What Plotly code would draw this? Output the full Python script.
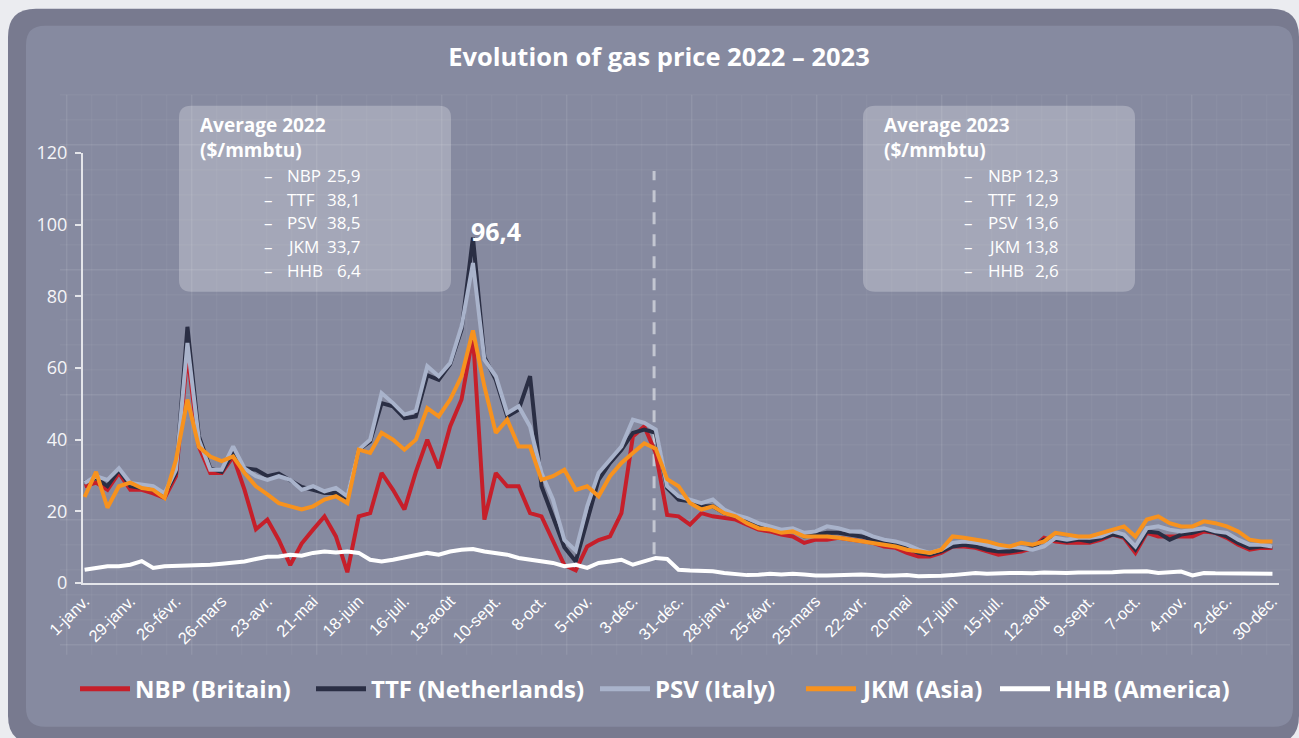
import pandas as pd
import plotly.graph_objects as go

# weekly readings, 1 Jan 2022 -> 29 Dec 2023 ($/mmbtu)
weeks = pd.date_range("2022-01-01", periods=105, freq="7D")

nbp = [27, 28, 26, 30.7, 26, 26, 25, 23.7, 29.8, 64, 38, 30.7, 30.7, 35.3, 26, 15,
       17.7, 12, 5, 11, 14.9, 18.6, 13, 3, 18.6, 19.5, 30.7, 26, 20.5, 31, 40, 32,
       43.7, 51.2, 69, 17.7, 30.7, 27, 27, 19.5, 18.6, 12, 5, 3.5, 10.2, 12, 13, 19.5,
       40.9, 43.7, 36.3, 19, 18.6, 16.3, 19.5, 18.6, 18.1, 17.7, 16.3, 14.9, 14.4, 13.5,
       13, 11.2, 12.1, 12.1, 12.6, 12.1, 11.6, 11.2, 10.2, 9.8, 8.4, 7.4, 7.4, 8.4,
       10.2, 10.2, 9.8, 8.8, 7.9, 8.4, 8.8, 9.8, 12.6, 11.6, 11.2, 11.2, 11.2, 12.1,
       13.5, 12.6, 8.4, 14, 13, 13, 13, 13, 14.4, 14, 12.6, 10.7, 9.3, 9.8, 9.8]
ttf = [28, 29.3, 27, 31.6, 27, 26.5, 26, 24.7, 30.7, 71.5, 41, 32, 31, 36.3, 32, 31.6,
       29.8, 30.5, 28.8, 26.8, 26, 25.1, 25.1, 23.7, 37.2, 39.5, 50.2, 49.3, 46, 46.5,
       58, 56.7, 61, 70.7, 96.4, 63, 56.7, 46.5, 48.4, 57.7, 27, 18.6, 10, 6, 17.7,
       28.8, 33.5, 37.2, 41.9, 42.8, 41.9, 26.5, 23.3, 22.8, 21.4, 21.4, 19.5, 18.6,
       17.2, 15.8, 15.3, 14.4, 14.9, 13, 13.5, 14, 14, 13.5, 13, 12.1, 11.2, 10.7, 9.8,
       8.4, 7.9, 8.8, 10.2, 10.7, 10.2, 9.3, 8.8, 8.8, 9.3, 9.8, 12.1, 12.1, 11.6, 12.1,
       11.6, 12.6, 13.5, 13, 9.3, 14.4, 14, 12.1, 13.5, 14, 14.9, 14, 13, 11.2, 9.8,
       10.2, 10.2]
psv = [27.9, 29.8, 28.8, 32, 27.9, 27.4, 27, 25, 31.6, 67, 40, 31.6, 31.6, 38.1, 32,
       29.8, 28.8, 29.8, 28.8, 26, 27, 25.6, 26.5, 24.2, 37.2, 40, 53, 50.2, 47, 48,
       60.5, 57.7, 61.4, 71.6, 89.3, 62.3, 57.7, 47.4, 49.3, 43.7, 30.7, 23.3, 12, 9,
       21.4, 30.7, 34.4, 38.1, 45.6, 44.7, 42.8, 27, 24.2, 23.3, 22.3, 23.3, 20.5, 19,
       18.1, 16.7, 15.8, 14.9, 15.3, 14, 14.4, 15.8, 15.3, 14.4, 14.4, 13, 12.1, 11.6,
       10.7, 9.3, 8.4, 9.3, 11.2, 11.6, 11.2, 10.7, 9.8, 10.2, 9.8, 9.3, 10.2, 12.6,
       12.1, 12.6, 12.6, 13, 14.4, 13.5, 10.2, 15.3, 15.8, 14.9, 14.4, 14.9, 15.3, 14.4,
       14, 12.1, 10.7, 10.7, 10.2]
jkm = [24, 31, 21, 27, 28, 26.5, 26, 23.7, 34.4, 51.2, 38, 35.3, 34, 35.3, 30.7, 27,
       24.7, 22.3, 21.4, 20.5, 21.4, 23.3, 24.2, 22.3, 37.2, 36.3, 41.9, 40, 37.2, 40,
       48.8, 46.5, 51.2, 57.7, 70.5, 54.9, 41.9, 45.6, 38.1, 38.1, 28.8, 29.8, 31.6, 26,
       27, 24.2, 29.8, 33.5, 36.3, 39, 37.5, 29, 27, 22.3, 20.5, 21.4, 19.5, 18.6, 16.7,
       15.3, 14.9, 14, 14.4, 13, 13, 13, 12.6, 12.1, 11.6, 11.2, 10.7, 10.2, 9.3, 8.8,
       8.4, 9.3, 13, 12.6, 12.1, 11.6, 10.7, 10.2, 11.2, 10.7, 11.6, 14, 13.5, 13, 13,
       14, 14.9, 15.8, 13, 17.7, 18.6, 16.7, 15.8, 15.8, 17.2, 16.7, 15.8, 14.4, 12.1,
       11.6, 11.6]
hhb = [3.7, 4.2, 4.7, 4.7, 5.1, 6.1, 4.2, 4.7, 4.8, 4.8, 5.1, 5.1, 5.4, 5.6, 6, 6.7,
       7.3, 7.4, 7.9, 7.6, 8.4, 8.8, 8.5, 8.8, 8.4, 6.5, 6, 6.5, 7.2, 7.9, 8.4, 7.9, 8.8,
       9.3, 9.5, 8.8, 8.4, 7.9, 7, 6.5, 6, 5.6, 4.7, 5.1, 4.2, 5.6, 6, 6.5, 5.1, 6, 7,
       6.7, 3.7, 3.5, 3.5, 3.3, 2.8, 2.6, 2.2, 2.3, 2.6, 2.4, 2.6, 2.4, 2.1, 2.1, 2.2,
       2.2, 2.4, 2.2, 2, 2.1, 2.2, 1.9, 1.9, 2, 2.2, 2.4, 2.8, 2.6, 2.8, 2.8, 2.8, 2.7,
       2.9, 2.8, 2.8, 2.9, 2.9, 3, 3, 3.2, 3.3, 3.3, 2.8, 3, 3.2, 2.1, 2.8, 2.7, 2.7,
       2.6, 2.6, 2.6, 2.6]

tick_dates = pd.date_range("2022-01-01", periods=27, freq="28D")
tick_labels = ["1-janv.", "29-janv.", "26-févr.", "26-mars", "23-avr.", "21-mai",
               "18-juin", "16-juil.", "13-août", "10-sept.", "8-oct.", "5-nov.",
               "3-déc.", "31-déc.", "28-janv.", "25-févr.", "25-mars", "22-avr.",
               "20-mai", "17-juin", "15-juil.", "12-août", "9-sept.", "7-oct.",
               "4-nov.", "2-déc.", "30-déc."]

avg_names = ["NBP", "TTF", "PSV", "JKM", "HHB"]
avg_2022 = ["25,9", "38,1", "38,5", "33,7", "6,4"]
avg_2023 = ["12,3", "12,9", "13,6", "13,8", "2,6"]

series = [
    ("NBP (Britain)", nbp, "#c61f2a"),
    ("TTF (Netherlands)", ttf, "#2a2e44"),
    ("PSV (Italy)", psv, "#a9b3cb"),
    ("JKM (Asia)", jkm, "#f7921e"),
    ("HHB (America)", hhb, "#ffffff"),
]
# legend sample start x (px) for each series
legend_x = [80, 316, 600, 806, 1000]

W, H = 1299, 738
L, R, T, B = 83, 1279, 153.3, 583.3
FONT = "Open Sans, sans-serif"


def px(x):
    return (x - L) / (R - L)


def py(y):
    return (B - y) / (B - T)


def rounded(x0, y0, x1, y1, r):
    pts = [
        ("M", [(x0 + r, y0)]), ("L", [(x1 - r, y0)]), ("Q", [(x1, y0), (x1, y0 + r)]),
        ("L", [(x1, y1 - r)]), ("Q", [(x1, y1), (x1 - r, y1)]), ("L", [(x0 + r, y1)]),
        ("Q", [(x0, y1), (x0, y1 - r)]), ("L", [(x0, y0 + r)]), ("Q", [(x0, y0), (x0 + r, y0)]),
    ]
    out = ""
    for cmd, ps in pts:
        out += cmd + " ".join(f"{px(a):.5f},{py(b):.5f}" for a, b in ps) + " "
    return out + "Z"


fig = go.Figure()
for name, vals, color in series:
    fig.add_trace(go.Scatter(x=weeks, y=vals, name=name, mode="lines",
                             line=dict(color=color, width=4), showlegend=False))

shapes = [
    dict(type="path", path=rounded(8, 9, 1299, 744, 28), xref="paper", yref="paper",
         fillcolor="#787a8f", line=dict(width=0), layer="below"),
    dict(type="path", path=rounded(26, 26, 1293, 727, 19), xref="paper", yref="paper",
         fillcolor="#868aa0", line=dict(width=0), layer="below"),
]
# decorative background grid
gx = 66.7
while gx < 1292:
    strong = abs(((gx - 66.7) / 125) - round((gx - 66.7) / 125)) < 0.01
    shapes.append(dict(type="line", xref="paper", yref="paper", x0=px(gx), x1=px(gx),
                       y0=py(95), y1=py(655), layer="below",
                       line=dict(color="rgba(255,255,255,%s)" % (0.09 if strong else 0.04), width=1.5)))
    gx += 25
gy = 95
while gy <= 655:
    strong = abs(((gy - 145) / 125) - round((gy - 145) / 125)) < 0.01
    shapes.append(dict(type="line", xref="paper", yref="paper", x0=px(60), x1=px(1290),
                       y0=py(gy), y1=py(gy), layer="below",
                       line=dict(color="rgba(255,255,255,%s)" % (0.09 if strong else 0.04), width=1.5)))
    gy += 25
# average boxes
for bx in (179, 863):
    shapes.append(dict(type="path", path=rounded(bx, 106, bx + 272, 292, 12), xref="paper",
                       yref="paper", fillcolor="rgba(255,255,255,0.25)", line=dict(width=0),
                       layer="below"))
# year separator
shapes.append(dict(type="line", xref="x", yref="y", x0="2022-12-16", x1="2022-12-16",
                   y0=8, y1=115, layer="below",
                   line=dict(color="rgba(215,217,226,0.75)", width=3, dash="12px,10px")))
# legend samples
for (name, vals, color), lx in zip(series, legend_x):
    shapes.append(dict(type="line", xref="paper", yref="paper", x0=px(lx), x1=px(lx + 50),
                       y0=py(689), y1=py(689), line=dict(color=color, width=5)))

annotations = []
box_font = dict(family=FONT, color="white")
# box left edge, dash x, name x, value right edge
for bx, dx, nx, vx, year, vals in ((179, 262, 285, 363, "2022", avg_2022),
                                   (863, 962, 986, 1061, "2023", avg_2023)):
    annotations.append(dict(xref="paper", yref="paper", x=px(bx + 19), y=py(138),
                            xanchor="left", yanchor="middle", showarrow=False, align="left",
                            text=f"<b>Average {year}<br>($/mmbtu)</b>",
                            font=dict(size=19, **box_font)))
    for i, (nm, v) in enumerate(zip(avg_names, vals)):
        yy = 176 + i * 23.6
        annotations.append(dict(xref="paper", yref="paper", x=px(dx), y=py(yy),
                                xanchor="left", yanchor="middle", showarrow=False,
                                text="–", font=dict(size=17, **box_font)))
        annotations.append(dict(xref="paper", yref="paper", x=px(nx), y=py(yy),
                                xanchor="left", yanchor="middle", showarrow=False,
                                text=nm, font=dict(size=17, **box_font)))
        annotations.append(dict(xref="paper", yref="paper", x=px(vx), y=py(yy),
                                xanchor="right", yanchor="middle", showarrow=False,
                                text=v, font=dict(size=17, **box_font)))
annotations.append(dict(x=weeks[34], y=max(ttf), xanchor="left", yanchor="middle",
                        xshift=-4, yshift=7, showarrow=False, text="<b>96,4</b>",
                        font=dict(family=FONT, size=25, color="white")))
for (name, vals, color), lx in zip(series, legend_x):
    annotations.append(dict(xref="paper", yref="paper", x=px(lx + 53), y=py(689),
                            xanchor="left", yanchor="middle", showarrow=False,
                            text=f"<b>{name}</b>",
                            font=dict(family=FONT, size=24, color="white")))

axis_col = "#e4e5ea"
fig.update_layout(
    width=W, height=H,
    margin=dict(l=L, r=W - R, t=T, b=H - B),
    paper_bgcolor="#ebecf0",
    plot_bgcolor="rgba(0,0,0,0)",
    title=dict(text="<b>Evolution of gas price 2022 – 2023</b>", xref="container",
               yref="container", x=659 / W, y=1 - 57 / H, xanchor="center",
               yanchor="middle", font=dict(family=FONT, size=25.5, color="white")),
    xaxis=dict(type="date", range=["2021-12-31", "2024-01-03"], tickvals=tick_dates,
               ticktext=tick_labels, tickangle=-45, showgrid=False, zeroline=False,
               showline=True, linecolor=axis_col, linewidth=2, ticks="",
               tickfont=dict(family="Liberation Sans, Arial", size=16.5, color="white")),
    yaxis=dict(range=[0, 120], dtick=20, showgrid=False, zeroline=False, showline=True,
               linecolor=axis_col, linewidth=2, ticks="outside", ticklen=6, tickwidth=2,
               tickcolor=axis_col, ticklabelstandoff=4,
               tickfont=dict(family=FONT, size=18, color="#f5f5f8")),
    shapes=shapes,
    annotations=annotations,
    showlegend=False,
)

fig.write_html("out.html", config={"displayModeBar": False},
               post_script="document.body.style.margin='0';"
               "document.body.style.background='#ebecf0';")
